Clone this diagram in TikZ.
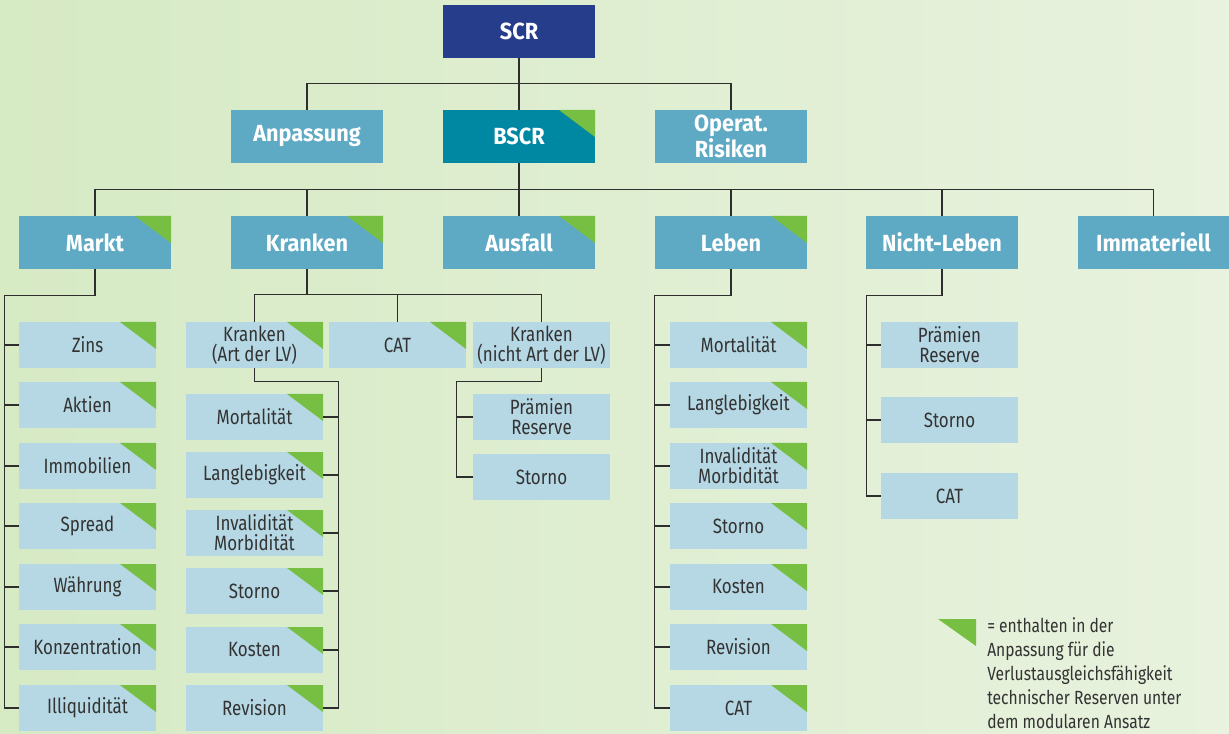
\documentclass[tikz,border=0pt]{standalone}
\usepackage{fontspec}
\setmainfont{Fira Sans}[FakeStretch=0.82, BoldFeatures={FakeStretch=0.93}]
\usetikzlibrary{calc}
\definecolor{scrc}{HTML}{263D8C}
\definecolor{bscrc}{HTML}{0088A3}
\definecolor{midc}{HTML}{5EA9C4}
\definecolor{subc}{HTML}{B6D8E4}
\definecolor{trig}{HTML}{77BF43}
\definecolor{linec}{HTML}{2E2E2E}
\definecolor{txtc}{HTML}{333333}
\definecolor{bgL}{HTML}{D6EAC4}
\definecolor{bgR}{HTML}{E8F2DE}
\begin{document}
\begin{tikzpicture}[x=0.75pt,y=-0.75pt,
  gtri/.style={path picture={\fill[trig] ([xshift=-27pt]path picture bounding box.north east) -- (path picture bounding box.north east) -- ([yshift=-20.25pt]path picture bounding box.north east) -- cycle;}},
  bigbox/.style={minimum width=114pt, minimum height=39.75pt, inner sep=0pt, text=white, align=center, font=\bfseries\fontsize{17.5}{15}\selectfont},
  midbox/.style={bigbox, fill=midc},
  subbox/.style={minimum width=102.75pt, minimum height=34.5pt, inner sep=0pt, fill=subc, text=txtc, align=center, font=\fontsize{15.5}{15}\selectfont},
  conn/.style={draw=linec, line width=1.1pt}]
\shade[left color=bgL, right color=bgR] (0,0) rectangle (1229,734);
\useasboundingbox (0,0) rectangle (1229,734);
% level 0/1
\node[bigbox, fill=scrc] (scr) at (519,31.5) {SCR};
\node[midbox] (anp) at (307,136.5) {Anpassung};
\node[bigbox, fill=bscrc, gtri] (bscr) at (519,136.5) {BSCR};
\node[midbox] (op) at (731,136.5) {Operat.\\Risiken};
% level 2
\node[midbox, gtri] (markt) at (95,242.5) {Markt};
\node[midbox, gtri] (kr) at (307,242.5) {Kranken};
\node[midbox, gtri] (aus) at (519,242.5) {Ausfall};
\node[midbox, gtri] (leb) at (731,242.5) {Leben};
\node[midbox] (nl) at (942,242.5) {Nicht-Leben};
\node[midbox] (imm) at (1153.5,242.5) {Immateriell};
% Markt subs
\node[subbox, gtri] (m1) at (87.5,345) {Zins};
\node[subbox, gtri] (m2) at (87.5,405) {Aktien};
\node[subbox, gtri] (m3) at (87.5,466) {Immobilien};
\node[subbox, gtri] (m4) at (87.5,526) {Spread};
\node[subbox, gtri] (m5) at (87.5,587) {Währung};
\node[subbox, gtri] (m6) at (87.5,647) {Konzentration};
\node[subbox, gtri] (m7) at (87.5,708) {Illiquidität};
% Kranken subs
\node[subbox, gtri] (kal) at (254.5,345) {Kranken\\(Art der LV)};
\node[subbox, gtri] (kcat) at (397.5,345) {CAT};
\node[subbox] (knal) at (541.5,345) {Kranken\\(nicht Art der LV)};
\node[subbox, gtri] (k1) at (254.5,417) {Mortalität};
\node[subbox, gtri] (k2) at (254.5,475) {Langlebigkeit};
\node[subbox, gtri] (k3) at (254.5,533) {Invalidität\\Morbidität};
\node[subbox, gtri] (k4) at (254.5,591) {Storno};
\node[subbox, gtri] (k5) at (254.5,650) {Kosten};
\node[subbox, gtri] (k6) at (254.5,708) {Revision};
\node[subbox] (n1) at (541.5,417) {Prämien\\Reserve};
\node[subbox] (n2) at (541.5,477) {Storno};
% Leben subs
\node[subbox, gtri] (l1) at (738.5,345) {Mortalität};
\node[subbox, gtri] (l2) at (738.5,405) {Langlebigkeit};
\node[subbox, gtri] (l3) at (738.5,466) {Invalidität\\Morbidität};
\node[subbox, gtri] (l4) at (738.5,526) {Storno};
\node[subbox, gtri] (l5) at (738.5,587) {Kosten};
\node[subbox, gtri] (l6) at (738.5,647) {Revision};
\node[subbox, gtri] (l7) at (738.5,708) {CAT};
% Nicht-Leben subs
\node[subbox] (s1) at (949.5,345) {Prämien\\Reserve};
\node[subbox] (s2) at (949.5,420) {Storno};
\node[subbox] (s3) at (949.5,496) {CAT};
% connectors
\draw[conn] (scr) -- (bscr);
\draw[conn] (anp.north) -- ++(0,-26) -| (op.north);
\draw[conn] (bscr) -- (aus);
\draw[conn] (markt.north) -- ++(0,-26) -| (imm.north);
\draw[conn] (kr.north) -- ++(0,-26);
\draw[conn] (leb.north) -- ++(0,-26);
\draw[conn] (nl.north) -- ++(0,-26);
% Markt
\draw[conn] (markt.south) -- ++(0,26) -| ([xshift=-10.5pt]m7.west) -- (m7.west);
\foreach \n in {m1,m2,m3,m4,m5,m6} \draw[conn] (\n.west) -- ++(-14,0);
% Kranken
\draw[conn] (kal.north) -- ++(0,-27) -| (knal.north);
\draw[conn] (kcat.north) -- ++(0,-27);
\draw[conn] (kr.south) -- ++(0,26);
\draw[conn] (kal.south) -- ++(0,13) -| ([xshift=11.25pt]k6.east) -- (k6.east);
\foreach \n in {k1,k2,k3,k4,k5} \draw[conn] (\n.east) -- ++(15,0);
\draw[conn] (knal.south) -- ++(0,13) -| ([xshift=-12pt]n2.west) -- (n2.west);
\draw[conn] (n1.west) -- ++(-16,0);
% Leben
\draw[conn] (leb.south) -- ++(0,26) -| ([xshift=-11.25pt]l7.west) -- (l7.west);
\foreach \n in {l1,l2,l3,l4,l5,l6} \draw[conn] (\n.west) -- ++(-15,0);
% Nicht-Leben
\draw[conn] (nl.south) -- ++(0,26) -| ([xshift=-10.5pt]s3.west) -- (s3.west);
\foreach \n in {s1,s2} \draw[conn] (\n.west) -- ++(-14,0);
% legend
\fill[trig] (938,619) coordinate (lg1) -- (976,619) -- (976,646) -- cycle;
\node[anchor=north west, inner sep=0pt, align=left, text=txtc, font=\fontsize{14.3}{18}\selectfont] (leg) at (987,617) {= enthalten in der\\Anpassung für die\\Verlustausgleichsfähigkeit\\technischer Reserven unter\\dem modularen Ansatz};
\end{tikzpicture}
\end{document}
